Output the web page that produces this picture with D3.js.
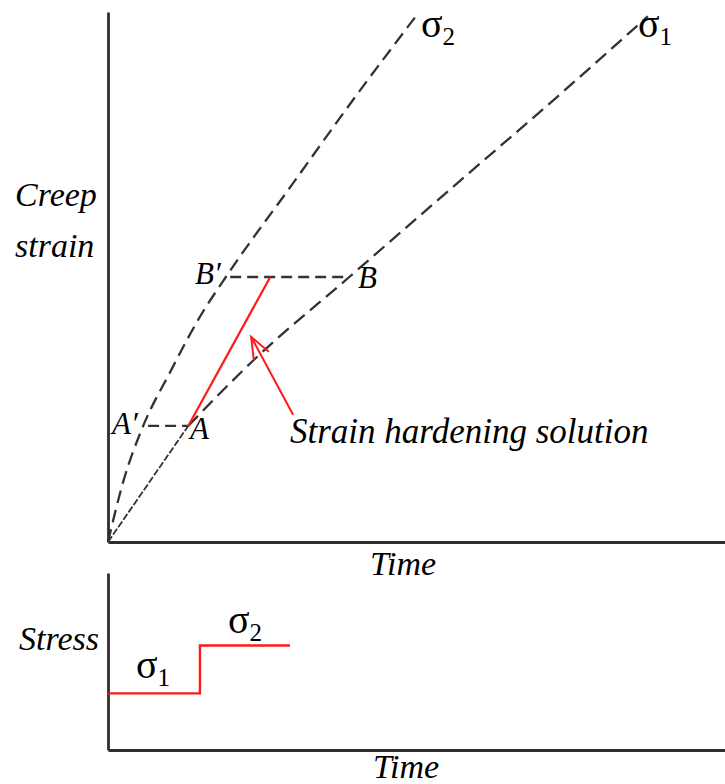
<!DOCTYPE html>
<html>
<head>
<meta charset="utf-8">
<script src="https://cdn.jsdelivr.net/npm/d3@7"></script>
<style>
  html, body { margin: 0; padding: 0; background: #fff; }
  svg { display: block; }
  .lbl { font-family: "Liberation Serif", "Times New Roman", Times, serif; font-style: italic; fill: #000; }
  .sym { font-family: "Liberation Serif", "Times New Roman", Times, serif; fill: #000; }
</style>
</head>
<body>
<svg id="chart" width="725" height="784"></svg>
<script>
// Creep curves: time vs. creep strain at two stress levels
const sigma2Time   = [0, 0.24, 0.57, 1.00, 1.49, 1.91, 3.00, 3.97, 4.99];
const sigma2Strain = [0, 1.11, 2.19, 3.19, 4.25, 5.00, 6.77, 8.34, 9.92];

const sigma1Time   = [0, 1.30, 2.35, 3.91, 5.87, 7.33, 8.75];
const sigma1Strain = [0, 2.19, 3.42, 5.00, 6.98, 8.45, 9.92];

// Strain levels at which the stress changes (A) and the target point (B)
const levelNames  = ["A", "B"];
const levelStrain = [2.19, 5.00];
const levelFrom   = [0.65, 1.98];   // start of the dashed connector (at σ2 curve)
const levelTo     = [1.30, 3.91];   // end of the connector (at σ1 curve)

// Strain hardening solution segment
const hardenTime   = [1.30, 2.63];
const hardenStrain = [2.19, 5.00];

// Annotation arrow (tail -> tip)
const arrowTime   = [3.00, 2.32];
const arrowStrain = [2.40, 3.87];

// Stress history (step)
const stressTime  = [0, 1.49, 1.49, 2.95];
const stressValue = [0.32, 0.32, 0.59, 0.59];

const svg = d3.select("#chart");

const x = d3.scaleLinear().domain([0, 10]).range([108, 725]);
const y = d3.scaleLinear().domain([0, 10]).range([542, 12]);
const yS = d3.scaleLinear().domain([0, 1]).range([750, 573]);

const axisColor = "#2e2e2e";
const dashColor = "#333";
const red = "#ff1a1a";

function styleAxis(g) {
  g.select(".domain").attr("stroke", axisColor).attr("stroke-width", 2.8);
  g.selectAll(".tick").remove();
}

// Top panel axes
svg.append("g").attr("transform", `translate(${x(0)},0)`)
  .call(d3.axisLeft(y).tickValues([]).tickSizeOuter(0)).call(styleAxis);
svg.append("g").attr("transform", `translate(0,${y(0)})`)
  .call(d3.axisBottom(x).tickValues([]).tickSizeOuter(0)).call(styleAxis);

// Bottom panel axes
svg.append("g").attr("transform", `translate(${x(0)},0)`)
  .call(d3.axisLeft(yS).tickValues([]).tickSizeOuter(0)).call(styleAxis);
svg.append("g").attr("transform", `translate(0,${yS(0)})`)
  .call(d3.axisBottom(x).tickValues([]).tickSizeOuter(0)).call(styleAxis);

const line = d3.line().x(d => x(d[0])).y(d => y(d[1])).curve(d3.curveMonotoneX);

// σ2 creep curve
svg.append("path")
  .datum(d3.zip(sigma2Time, sigma2Strain))
  .attr("d", line)
  .attr("fill", "none").attr("stroke", dashColor).attr("stroke-width", 2.3)
  .attr("stroke-dasharray", "13,7");

// σ1 creep curve: fine dashes up to A, long dashes beyond
const s1 = d3.zip(sigma1Time, sigma1Strain);
svg.append("path")
  .datum(s1.slice(0, 2))
  .attr("d", line)
  .attr("fill", "none").attr("stroke", dashColor).attr("stroke-width", 1.8)
  .attr("stroke-dasharray", "7,2");
svg.append("path")
  .datum(s1.slice(1))
  .attr("d", line)
  .attr("fill", "none").attr("stroke", dashColor).attr("stroke-width", 2.3)
  .attr("stroke-dasharray", "14,7");

// Horizontal connectors A'–A and B'–B
levelStrain.forEach((e, i) => {
  svg.append("line")
    .attr("x1", x(levelFrom[i])).attr("x2", x(levelTo[i]))
    .attr("y1", y(e)).attr("y2", y(e))
    .attr("stroke", dashColor).attr("stroke-width", 2.3)
    .attr("stroke-dasharray", "11,6");
});

// Strain hardening path
svg.append("path")
  .datum(d3.zip(hardenTime, hardenStrain))
  .attr("d", d3.line().x(d => x(d[0])).y(d => y(d[1])))
  .attr("fill", "none").attr("stroke", red).attr("stroke-width", 2.2);

// Arrow with open head
const ax0 = x(arrowTime[0]), ay0 = y(arrowStrain[0]);
const ax1 = x(arrowTime[1]), ay1 = y(arrowStrain[1]);
svg.append("line")
  .attr("x1", ax0).attr("y1", ay0).attr("x2", ax1).attr("y2", ay1)
  .attr("stroke", red).attr("stroke-width", 2);
const ang = Math.atan2(ay0 - ay1, ax0 - ax1);
const headLen = 23, spread = 0.38;
svg.append("path")
  .attr("d", `M${ax1 + headLen * Math.cos(ang - spread)},${ay1 + headLen * Math.sin(ang - spread)}` +
             `L${ax1},${ay1}` +
             `L${ax1 + headLen * Math.cos(ang + spread)},${ay1 + headLen * Math.sin(ang + spread)}`)
  .attr("fill", "none").attr("stroke", red).attr("stroke-width", 2);

// Stress step
svg.append("path")
  .datum(d3.zip(stressTime, stressValue))
  .attr("d", d3.line().x(d => x(d[0])).y(d => yS(d[1])))
  .attr("fill", "none").attr("stroke", red).attr("stroke-width", 2.4);

// Text
function label(txt, px, py, size, cls = "lbl", anchor = "start") {
  return svg.append("text").attr("class", cls).attr("x", px).attr("y", py)
    .attr("font-size", size).attr("text-anchor", anchor).text(txt);
}
function sigma(sub, px, py) {
  const t = svg.append("text").attr("class", "sym").attr("x", px).attr("y", py).attr("font-size", 40);
  t.append("tspan").text("σ");
  t.append("tspan").attr("font-size", 25).attr("dy", 8).text(sub);
}

label("Creep", 15, 206, 34);
label("strain", 15, 257, 34);
label("Time", 370, 575, 34);
label("Time", 373, 778, 34);
label("Stress", 19, 650, 34);
label("Strain hardening solution", 290, 443, 35);

label("A\u2032", 112, 434, 31);
label("A", 190, 439, 31);
label("B\u2032", 195, 284, 31);
label("B", 358, 288, 31);

sigma("2", 421, 37);
sigma("1", 638, 37);
sigma("1", 136, 678);
sigma("2", 228, 633);
</script>
</body>
</html>
